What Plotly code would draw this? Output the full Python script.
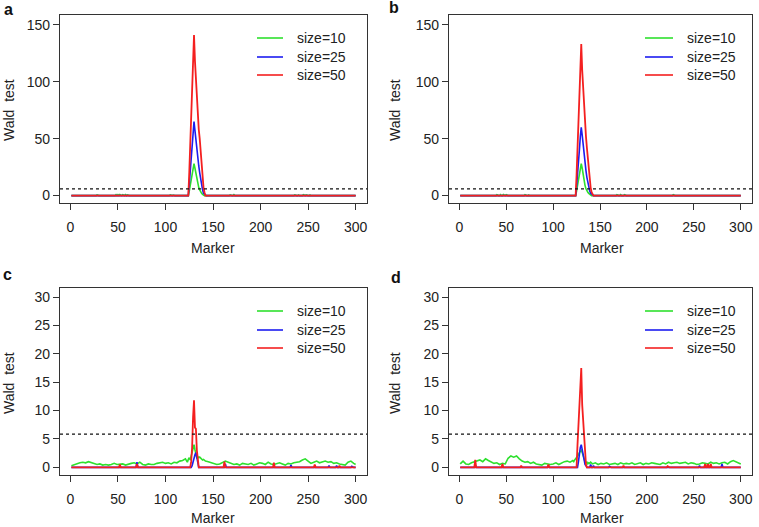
"""
Wald test profiles along 300 markers for three sample sizes (panels a-d).
"""

import plotly.graph_objects as go

# ---- data -------------------------------------------------------------
MARKERS = list(range(1, 301))
SIZES = ["size=10", "size=25", "size=50"]
THRESHOLD = 5.84

# sparse (marker, value) pairs - every other marker is 0
A_GREEN = [(10, 0.5), (26, 0.6), (28, 0.7), (33, 0.5), (48, 0.8), (50, 0.9), (52, 1.0),
           (55, 0.8), (58, 0.9), (60, 0.6), (70, 0.5), (85, 0.6), (88, 0.5), (105, 0.7),
           (108, 0.5), (124, 0), (125, 4), (126, 9), (127, 15), (128, 21), (129, 26),
           (130, 28), (131, 24), (132, 19), (133, 14), (134, 10), (135, 7), (136, 5),
           (137, 3), (138, 2), (139, 1), (160, 0.6), (163, 0.5), (168, 0.7), (172, 0.8),
           (175, 0.6), (185, 0.5), (195, 0.5), (228, 0.5), (232, 0.6), (236, 0.7),
           (240, 0.6), (245, 0.8), (248, 0.7), (252, 0.5), (258, 0.6), (285, 0.5), (290, 0.6)]
A_BLUE = [(125, 10), (126, 20), (127, 30), (128, 42), (129, 55), (130, 65), (131, 57),
          (132, 48), (133, 40), (134, 32), (135, 26), (136, 20), (137, 14), (138, 9),
          (139, 5), (140, 2), (141, 1)]
A_RED = [(125, 20), (126, 45), (127, 62), (128, 85), (129, 105), (130, 141), (131, 118),
         (132, 100), (133, 82), (134, 70), (135, 58), (136, 50), (137, 38), (138, 25),
         (139, 14), (140, 7), (141, 3)]

B_GREEN = [(24, 0.5), (30, 0.6), (40, 0.7), (44, 0.8), (47, 1.0), (50, 0.8), (66, 0.6),
           (70, 0.7), (74, 0.5), (100, 0.6), (110, 0.5), (116, 0.6), (124, 0), (125, 4),
           (126, 9), (127, 15), (128, 21), (129, 26), (130, 28), (131, 24), (132, 18),
           (133, 13), (134, 9), (135, 6), (136, 4), (137, 3), (138, 2), (139, 1),
           (152, 0.5), (160, 0.6), (168, 0.8), (172, 0.9), (176, 0.7), (200, 0.5),
           (206, 0.6), (214, 0.5), (222, 0.6), (228, 0.7), (234, 0.6), (240, 0.5),
           (255, 0.6), (260, 0.5)]
B_BLUE = [(125, 8), (126, 17), (127, 27), (128, 40), (129, 52), (130, 60), (131, 53),
          (132, 44), (133, 36), (134, 29), (135, 22), (136, 16), (137, 11), (138, 7),
          (139, 4), (140, 2), (141, 1)]
B_RED = [(125, 18), (126, 40), (127, 58), (128, 80), (129, 117), (130, 133), (131, 110),
         (132, 92), (133, 76), (134, 63), (135, 52), (136, 42), (137, 32), (138, 22),
         (139, 13), (140, 7), (141, 3), (142, 1)]

# green in c/d is a continuous noisy baseline, read every few markers
C_GREEN_X = [1, 4, 7, 10, 13, 16, 19, 22, 25, 28, 31, 34, 37, 40, 43, 46, 49, 52, 55, 58,
             61, 64, 67, 70, 73, 76, 79, 82, 85, 88, 91, 94, 97, 100, 103, 106, 109, 112,
             115, 118, 121, 122, 123, 124, 125, 126, 127, 128, 129, 130, 131, 132, 133,
             134, 135, 136, 137, 138, 139, 140, 142, 145, 148, 151, 154, 157, 160, 163,
             166, 169, 172, 175, 178, 181, 184, 187, 190, 193, 196, 199, 202, 205, 208,
             211, 214, 217, 220, 223, 226, 229, 232, 235, 238, 241, 244, 247, 250, 253,
             256, 259, 262, 265, 268, 271, 274, 277, 280, 283, 286, 289, 292, 295, 298, 300]
C_GREEN_Y = [0.3, 0.5, 0.7, 0.8, 0.9, 0.8, 1.0, 0.8, 0.6, 0.5, 0.6, 0.4, 0.5, 0.4, 0.5,
             0.7, 0.5, 0.6, 0.6, 0.4, 0.6, 0.7, 0.8, 0.6, 0.9, 0.5, 0.4, 0.6, 0.5, 0.5,
             0.7, 0.8, 0.9, 0.7, 0.8, 0.6, 0.9, 0.8, 1.1, 1.2, 1.5, 1.2, 0.9, 1.4, 1.7,
             1.3, 1.9, 2.6, 3.3, 4.0, 3.1, 2.2, 1.6, 1.9, 1.7, 1.8, 1.6, 1.5, 1.3, 1.4,
             1.1, 1.0, 0.8, 0.7, 0.5, 0.6, 0.9, 1.1, 0.9, 0.7, 0.5, 0.6, 0.4, 0.7, 0.6,
             0.5, 0.7, 0.4, 0.6, 0.8, 0.7, 0.5, 0.9, 0.6, 0.5, 0.7, 0.8, 0.6, 0.4, 0.7,
             0.6, 0.8, 0.9, 1.0, 1.3, 1.5, 1.1, 0.7, 0.9, 1.1, 0.8, 1.0, 1.1, 0.9, 1.0,
             0.7, 0.8, 0.6, 0.5, 0.4, 0.9, 1.1, 0.7, 0.5]
C_BLUE = [(70, 0.9), (128, 0.3), (129, 1.0), (130, 1.8), (131, 2.2), (132, 2.6), (133, 1.5),
          (134, 0.5), (163, 0.6), (232, 0.4), (272, 0.3), (280, 0.3), (296, 0.2)]
C_RED = [(52, 0.5), (70, 0.6), (127, 1.0), (128, 3.5), (129, 8.8), (130, 11.8), (131, 7.0),
         (132, 6.8), (133, 3.0), (134, 1.0), (162, 1.0), (214, 0.8), (257, 0.5), (283, 0.3)]

D_GREEN_X = C_GREEN_X
D_GREEN_Y = [0.6, 1.1, 0.6, 0.5, 0.8, 1.0, 1.2, 1.3, 1.0, 1.5, 1.2, 0.9, 0.7, 0.8, 0.5,
             0.7, 0.6, 1.6, 2.0, 1.8, 2.0, 1.5, 1.1, 0.9, 1.0, 0.7, 0.9, 0.6, 0.5, 0.4,
             0.7, 0.6, 0.5, 0.6, 0.8, 0.5, 0.8, 1.0, 1.1, 0.9, 1.2, 1.0, 1.3, 1.5, 1.6,
             1.8, 2.2, 2.6, 2.9, 3.0, 2.6, 2.0, 1.4, 1.0, 0.8, 0.9, 0.6, 0.8, 0.7, 0.9,
             0.6, 0.8, 0.5, 0.7, 0.6, 0.8, 0.5, 0.6, 0.7, 0.5, 0.8, 0.6, 0.7, 0.6, 0.8,
             0.5, 0.6, 0.8, 0.5, 0.7, 0.6, 0.8, 0.7, 0.6, 0.5, 0.8, 0.6, 0.9, 0.7, 0.8,
             0.9, 0.7, 0.8, 0.9, 0.6, 0.8, 0.7, 0.5, 0.6, 0.8, 0.7, 0.6, 0.9, 0.7, 0.8,
             0.6, 0.8, 0.9, 0.6, 1.0, 1.2, 1.0, 0.7, 0.6]
D_BLUE = [(17, 0.4), (95, 0.3), (127, 1.0), (128, 2.5), (129, 3.5), (130, 4.0), (131, 3.0),
          (132, 2.0), (133, 1.0), (134, 0.5), (135, 0.3), (140, 0.5), (143, 0.3), (160, 0.2),
          (256, 0.3), (280, 0.6)]
D_RED = [(17, 1.3), (46, 0.6), (66, 0.3), (95, 0.5), (126, 4.0), (127, 8.0), (128, 12.0),
         (129, 14.0), (130, 17.5), (131, 11.0), (132, 8.0), (133, 5.0), (134, 2.0),
         (135, 0.5), (175, 0.3), (222, 0.2), (262, 0.6), (265, 0.6), (268, 0.6)]

COLORS = ["#2ee02e", "#1c1cf0", "#f42020"]
WIDTHS = [1.6, 1.6, 1.8]
FONT = "Liberation Sans, Arial, sans-serif"

# body margin is removed after load (see post_script), so the figure fills the window
W, H = 759, 527


def fx(px):
    return px / W


def fy(py):
    return 1 - py / H


def expand(points):
    """Fill a 300-marker series from sparse (marker, value) pairs."""
    y = [0.0] * len(MARKERS)
    for m, v in points:
        y[m - 1] = v
    return y


TOP = (15, 203)
BOT = (288, 475)
LEFT = (60, 367)
RIGHT = (449, 752)

panels = [
    dict(green=(MARKERS, expand(A_GREEN)), blue=expand(A_BLUE), red=expand(A_RED),
         bx=LEFT, by=TOP, yr=[-6.5, 158.5], yt=[0, 50, 100, 150], leg=(257, 283, 295)),
    dict(green=(MARKERS, expand(B_GREEN)), blue=expand(B_BLUE), red=expand(B_RED),
         bx=RIGHT, by=TOP, yr=[-6.5, 158.5], yt=[0, 50, 100, 150], leg=(645, 673, 685)),
    dict(green=(C_GREEN_X, C_GREEN_Y), blue=expand(C_BLUE), red=expand(C_RED),
         bx=LEFT, by=BOT, yr=[-1.35, 31.6], yt=[0, 5, 10, 15, 20, 25, 30], leg=(257, 283, 295)),
    dict(green=(D_GREEN_X, D_GREEN_Y), blue=expand(D_BLUE), red=expand(D_RED),
         bx=RIGHT, by=BOT, yr=[-1.35, 31.6], yt=[0, 5, 10, 15, 20, 25, 30], leg=(645, 673, 685)),
]

fig = go.Figure()
layout = {}
shapes = []
annotations = []

for i, p in enumerate(panels, start=1):
    xa = "x" if i == 1 else f"x{i}"
    ya = "y" if i == 1 else f"y{i}"
    gx, gy = p["green"]
    for (xs, ys), color, lw, name in zip(
            [(gx, gy), (MARKERS, p["blue"]), (MARKERS, p["red"])], COLORS, WIDTHS, SIZES):
        fig.add_trace(go.Scatter(
            x=xs, y=ys, mode="lines", name=name, showlegend=False,
            line=dict(color=color, width=lw), xaxis=xa, yaxis=ya,
        ))

    axis_common = dict(
        showgrid=False, zeroline=False, showline=True, mirror=True,
        linecolor="#333333", linewidth=1.2, ticks="outside", ticklen=6,
        tickwidth=1.2, tickcolor="#333333",
        tickfont=dict(family=FONT, size=14, color="#222222"),
    )
    layout["xaxis" if i == 1 else f"xaxis{i}"] = dict(
        axis_common, domain=[fx(p["bx"][0]), fx(p["bx"][1])], range=[-10.96, 311.96],
        tickvals=[0, 50, 100, 150, 200, 250, 300], anchor=ya, ticklabelstandoff=5,
    )
    layout["yaxis" if i == 1 else f"yaxis{i}"] = dict(
        axis_common, domain=[fy(p["by"][1]), fy(p["by"][0])], range=p["yr"],
        tickvals=p["yt"], anchor=xa, ticklabelstandoff=0,
    )

    # threshold line
    shapes.append(dict(type="line", xref=f"{xa} domain", yref=ya, x0=0, x1=1,
                       y0=THRESHOLD, y1=THRESHOLD,
                       line=dict(color="#111111", width=1.2, dash="dot")))

    # legend (no box, like R's bty="n")
    lx0, lx1, tx = p["leg"]
    top = p["by"][0]
    for row, (color, name) in enumerate(zip(COLORS, SIZES)):
        yy = fy(top + [23, 42, 60][row])
        shapes.append(dict(type="line", xref="paper", yref="paper",
                           x0=fx(lx0), x1=fx(lx1), y0=yy, y1=yy,
                           line=dict(color=color, width=1.6)))
        annotations.append(dict(text=name, xref="paper", yref="paper",
                                x=fx(tx), y=yy, xanchor="left", yanchor="middle",
                                showarrow=False,
                                font=dict(family=FONT, size=14, color="#222222")))

# axis titles and panel letters, placed in reference pixels
for cx, cy in [(213, 248), (602, 248), (213, 518), (602, 518)]:
    annotations.append(dict(text="Marker", xref="paper", yref="paper", x=fx(cx), y=fy(cy),
                            xanchor="center", yanchor="middle", showarrow=False,
                            font=dict(family=FONT, size=14, color="#222222")))
for cx, cy in [(9, 110), (395, 110), (9, 383), (395, 383)]:
    annotations.append(dict(text="Wald\u00a0 test", xref="paper", yref="paper",
                            x=fx(cx), y=fy(cy), xanchor="center", yanchor="middle",
                            textangle=-90, showarrow=False,
                            font=dict(family=FONT, size=14, color="#222222")))
for letter, cx, cy in [("a", 8, 9), ("b", 394, 7), ("c", 7, 274), ("d", 396, 277)]:
    annotations.append(dict(text=f"<b>{letter}</b>", xref="paper", yref="paper",
                            x=fx(cx), y=fy(cy), xanchor="center", yanchor="middle",
                            showarrow=False,
                            font=dict(family=FONT, size=16, color="#111111")))

fig.update_layout(
    width=W, height=H,
    margin=dict(l=0, r=0, t=0, b=0),
    plot_bgcolor="white", paper_bgcolor="white",
    showlegend=False,
    shapes=shapes, annotations=annotations,
    **layout,
)

fig.write_html("out.html", config={"displayModeBar": False},
               post_script="document.body.style.margin = '0';")
